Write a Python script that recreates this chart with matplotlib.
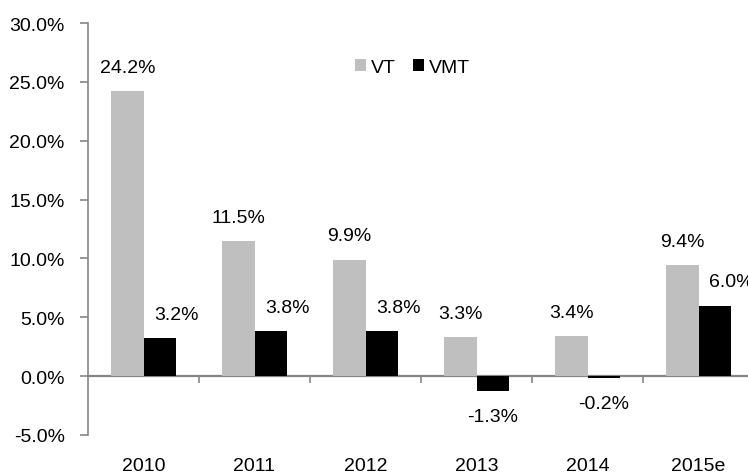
import numpy as np
import matplotlib
matplotlib.use("Agg")
import matplotlib.pyplot as plt
from matplotlib.ticker import FuncFormatter

# data
years = ["2010", "2011", "2012", "2013", "2014", "2015e"]
vt = [24.2, 11.5, 9.9, 3.3, 3.4, 9.4]
vmt = [3.2, 3.8, 3.8, -1.3, -0.2, 6.0]

plt.rcParams['font.family'] = ['Liberation Sans', 'DejaVu Sans']
plt.rcParams['font.size'] = 14

grey_axis = '#868686'

fig = plt.figure(figsize=(7.48, 4.77), dpi=100)
ax = fig.add_axes([88 / 748, 41 / 477, 666 / 748, 412 / 477])

x = np.arange(len(years))
w = 0.29
ax.bar(x - w / 2, vt, w, color='#BFBFBF', label='VT')
ax.bar(x + w / 2, vmt, w, color='#000000', label='VMT')

# data labels
for xi, v in zip(x, vt):
    ax.annotate(f"{v:.1f}%", (xi - w / 2, v), xytext=(0, 17), textcoords='offset points',
                ha='center', va='center')
for xi, v in zip(x, vmt):
    if v >= 0:
        ax.annotate(f"{v:.1f}%", (xi + w / 2, v), xytext=(12, 17), textcoords='offset points',
                    ha='center', va='center')
    else:
        ax.annotate(f"{v:.1f}%", (xi + w / 2, v), xytext=(0, -18), textcoords='offset points',
                    ha='center', va='center')

ax.set_xlim(-0.5, len(years) - 0.5)
ax.set_ylim(-5, 30)
ax.set_yticks(np.arange(-5, 31, 5))
ax.yaxis.set_major_formatter(FuncFormatter(lambda v, p: f"{v:.1f}%"))
ax.tick_params(axis='y', direction='out', length=5.8, width=1.2, color=grey_axis, pad=11)

# category labels at the bottom
ax.set_xticks(x)
ax.set_xticklabels(years)
ax.tick_params(axis='x', length=0, pad=16)

for s in ['top', 'right', 'bottom']:
    ax.spines[s].set_visible(False)
ax.spines['left'].set_color(grey_axis)
ax.spines['left'].set_linewidth(1.2)

# zero line with ticks between categories
zero_ax = ax.secondary_xaxis(5 / 35)
zero_ax.set_xticks(np.arange(0.5, len(years) - 0.5, 1))
zero_ax.set_xticklabels([])
zero_ax.tick_params(direction='out', length=5, width=1.2, color=grey_axis)
zero_ax.spines['bottom'].set_color(grey_axis)
zero_ax.spines['bottom'].set_linewidth(1.6)
zero_ax.set_zorder(0)

ax.legend(loc='center', bbox_to_anchor=(0.487, 0.893), ncol=2, frameon=False,
          handlelength=0.55, handleheight=0.55, handletextpad=0.25, columnspacing=0.9,
          borderpad=0, borderaxespad=0)

fig.savefig('out.png', dpi=100)
